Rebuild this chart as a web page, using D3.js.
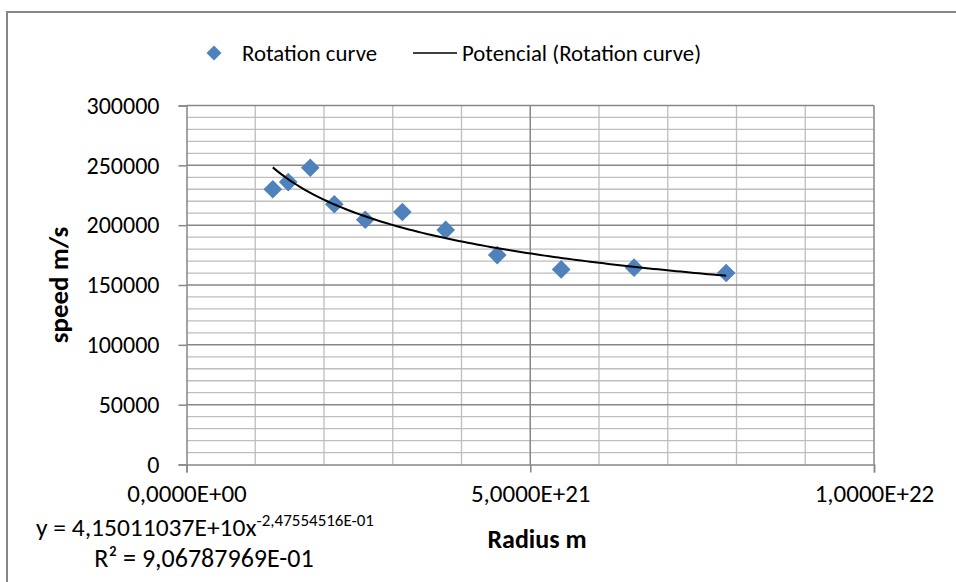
<!DOCTYPE html>
<html>
<head>
<meta charset="utf-8">
<script src="https://cdn.jsdelivr.net/npm/d3@7"></script>
<style>
html,body{margin:0;padding:0;background:#fff;overflow:hidden;}
svg{display:block;}
text{font-family:Carlito,Lato,"Open Sans",sans-serif;fill:#000;}
</style>
</head>
<body>
<svg id="chart" width="956" height="582"></svg>
<script>
// Data
const radius = [1.255e21, 1.48e21, 1.80e21, 2.15e21, 2.60e21, 3.14e21, 3.77e21, 4.52e21, 5.45e21, 6.51e21, 7.85e21];
const speed  = [230000, 236000, 248000, 217500, 204500, 211000, 196000, 175000, 163000, 164500, 160000];
const yTicks = [0, 50000, 100000, 150000, 200000, 250000, 300000];
const xTicks = [0, 5e21, 1e22];
// Power trendline coefficients (as displayed in the chart)
const trendA = 4.15011037e10;
const trendB = -2.47554516e-01;
const eqText = "y = 4,15011037E+10x";
const eqExp = "-2,47554516E-01";
const r2Text = "R\u00B2 = 9,06787969E-01";
const legendLabels = ["Rotation curve", "Potencial (Rotation curve)"];

const svg = d3.select("#chart");
const blue = "#4F81BD";
const majorGrid = "#878787";
const minorGrid = "#BEBEBE";

svg.append("rect").attr("x",0).attr("y",0).attr("width",956).attr("height",582).attr("fill","#fff");
svg.append("rect").attr("x",7).attr("y",12).attr("width",1000).attr("height",650)
  .attr("fill","none").attr("stroke","#868686").attr("stroke-width",2);

const x = d3.scaleLinear().domain([0,1e22]).range([186.5,874]);
const y = d3.scaleLinear().domain([0,300000]).range([464.5,105.5]);

const g = svg.append("g");
const yMinor = d3.range(0, 300001, 10000).filter(v => v % 50000 !== 0);
g.selectAll(".hmin").data(yMinor).enter().append("line")
  .attr("x1",x(0)).attr("x2",x(1e22)).attr("y1",d=>y(d)).attr("y2",d=>y(d))
  .attr("stroke",minorGrid).attr("stroke-width",1.3);
const xMinor = d3.range(1,10).map(i=>i*1e21).filter(v=>v!==5e21);
g.selectAll(".vmin").data(xMinor).enter().append("line")
  .attr("x1",d=>x(d)).attr("x2",d=>x(d)).attr("y1",y(0)).attr("y2",y(300000))
  .attr("stroke",minorGrid).attr("stroke-width",1.3);
g.selectAll(".hmaj").data(yTicks.filter(v=>v>0)).enter().append("line")
  .attr("x1",x(0)).attr("x2",x(1e22)).attr("y1",d=>y(d)).attr("y2",d=>y(d))
  .attr("stroke",majorGrid).attr("stroke-width",1.5);
g.selectAll(".vmaj").data(xTicks.filter(v=>v>0)).enter().append("line")
  .attr("x1",d=>x(d)).attr("x2",d=>x(d)).attr("y1",y(0)).attr("y2",y(300000))
  .attr("stroke",majorGrid).attr("stroke-width",1.5);

const fmtX = v => {
  if (v === 0) return "0,0000E+00";
  const s = v.toExponential(4).split("e");
  const e = parseInt(s[1],10);
  return s[0].replace(".",",") + "E" + (e<0?"-":"+") + String(Math.abs(e)).padStart(2,"0");
};
const yAxis = svg.append("g").attr("transform",`translate(${x(0)},0)`)
  .call(d3.axisLeft(y).tickValues(yTicks).tickSize(8).tickPadding(19).tickFormat(d=>String(d)));
const xAxis = svg.append("g").attr("transform",`translate(0,${y(0)})`)
  .call(d3.axisBottom(x).tickValues(xTicks).tickSize(8).tickPadding(12).tickFormat(fmtX));
[yAxis,xAxis].forEach(a=>{
  a.select(".domain").attr("stroke",majorGrid).attr("stroke-width",1.5);
  a.selectAll(".tick line").attr("stroke",majorGrid).attr("stroke-width",1.5);
  a.selectAll(".tick text").attr("font-family","Carlito,Lato,'Open Sans',sans-serif").attr("fill","#000");
});
yAxis.selectAll(".tick text").attr("font-size",24);
xAxis.selectAll(".tick text").attr("font-size",25);

// data points
const pts = radius.map((r,i)=>({r, v:speed[i]}));
svg.selectAll(".pt").data(pts).enter().append("rect")
  .attr("x",-6.6).attr("y",-6.6).attr("width",13.2).attr("height",13.2)
  .attr("fill",blue)
  .attr("transform",d=>`translate(${x(d.r)},${y(d.v)}) rotate(45)`);

// trendline from displayed equation
const rMin = d3.min(radius), rMax = d3.max(radius);
const trend = d3.range(0,101).map(i => {
  const r = rMin + (rMax-rMin)*i/100;
  return {r, v: trendA*Math.pow(r,trendB)};
});
svg.append("path").datum(trend)
  .attr("d", d3.line().x(d=>x(d.r)).y(d=>y(d.v)))
  .attr("fill","none").attr("stroke","#000").attr("stroke-width",2);

// legend
svg.append("rect").attr("x",-5.3).attr("y",-5.3).attr("width",10.6).attr("height",10.6)
  .attr("fill",blue).attr("transform","translate(214,53) rotate(45)");
svg.append("text").attr("x",242).attr("y",61).attr("font-size",22.8).text(legendLabels[0]);
svg.append("line").attr("x1",413).attr("x2",457).attr("y1",53).attr("y2",53)
  .attr("stroke","#000").attr("stroke-width",1.5);
svg.append("text").attr("x",462).attr("y",61).attr("font-size",22.8).text(legendLabels[1]);

// axis titles
svg.append("text").attr("transform","translate(68,285) rotate(-90)")
  .attr("text-anchor","middle").attr("font-size",27).attr("font-weight","bold").text("speed  m/s");
svg.append("text").attr("x",537).attr("y",548)
  .attr("text-anchor","middle").attr("font-size",26).attr("font-weight","bold").text("Radius m");

// trendline label
const eq = svg.append("text").attr("x",205).attr("y",536).attr("text-anchor","middle").attr("font-size",25.5);
eq.append("tspan").text(eqText);
eq.append("tspan").attr("dy",-10).attr("font-size",17).text(eqExp);
svg.append("text").attr("x",204).attr("y",567).attr("text-anchor","middle").attr("font-size",26).text(r2Text);
</script>
</body>
</html>
